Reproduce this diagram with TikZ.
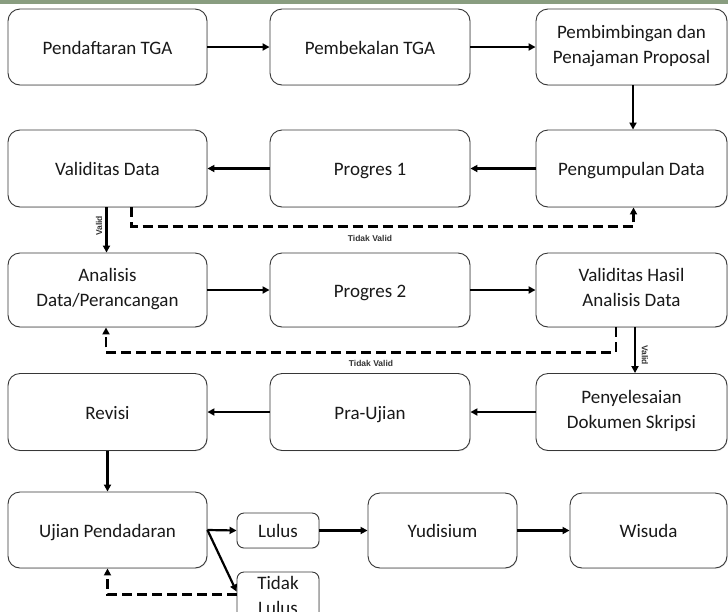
\documentclass[tikz,border=0pt]{standalone}
\usepackage{fontspec}
\setmainfont{Carlito}
\newfontfamily\tagfont{Liberation Sans}
\usetikzlibrary{arrows.meta,calc,shadows}
\definecolor{topbar}{RGB}{137,157,128}
\definecolor{boxline}{RGB}{55,55,55}
\definecolor{txt}{RGB}{25,25,25}
\newcommand\ms{\rule[-5pt]{0pt}{24.6pt}}
\tikzset{
  box/.style={draw=boxline, line width=0.9pt, rounded corners=12pt, fill=white,
    align=center, text=txt, font=\fontsize{19}{25}\selectfont, inner sep=0pt,
    execute at begin node=\ms,
    drop shadow={opacity=0.18, shadow xshift=0.8pt, shadow yshift=-0.8pt}},
  smallbox/.style={box, rounded corners=7pt},
  flow/.style={line width=2.2pt, -{Triangle[length=7pt,width=7pt]}},
  back/.style={line width=2.2pt, dash pattern=on 10pt off 5pt, -{Triangle[length=7pt,width=7pt]}},
  tag/.style={font=\tagfont\fontsize{8.5}{9}\selectfont\bfseries, text=black!80, inner sep=1pt},
}
\begin{document}
\begin{tikzpicture}[x=1pt,y=-1pt]
\useasboundingbox (0,0) rectangle (728,611);
\clip (0,0) rectangle (728,611);
\fill[white] (0,0) rectangle (728,611);
\fill[topbar] (0,0) rectangle (728,3.5);

% row 1
\node[box, minimum width=199pt, minimum height=76pt] (pend) at (107.5,47) {Pendaftaran TGA};
\node[box, minimum width=200pt, minimum height=76pt] (pemb) at (370,47) {Pembekalan TGA};
\node[box, minimum width=191pt, minimum height=76pt] (bimb) at (631.5,47) {Pembimbingan dan\\\ms Penajaman Proposal};
% row 2
\node[box, minimum width=199pt, minimum height=77pt] (valdata) at (107.5,168.5) {Validitas Data};
\node[box, minimum width=200pt, minimum height=77pt] (prog1) at (370,168.5) {Progres 1};
\node[box, minimum width=191pt, minimum height=77pt] (peng) at (631.5,168.5) {Pengumpulan Data};
% row 3
\node[box, minimum width=199pt, minimum height=74pt] (anal) at (107.5,290) {Analisis\\\ms Data/Perancangan};
\node[box, minimum width=200pt, minimum height=74pt] (prog2) at (370,290) {Progres 2};
\node[box, minimum width=191pt, minimum height=74pt] (valhasil) at (631.5,290) {Validitas Hasil\\\ms Analisis Data};
% row 4
\node[box, minimum width=199pt, minimum height=77pt] (revisi) at (107.5,412) {Revisi};
\node[box, minimum width=200pt, minimum height=77pt] (pra) at (370,412) {Pra-Ujian};
\node[box, minimum width=191pt, minimum height=77pt] (penyel) at (631.5,412) {Penyelesaian\\\ms Dokumen Skripsi};
% row 5
\node[box, minimum width=199pt, minimum height=76pt] (ujian) at (107.5,530) {Ujian Pendadaran};
\node[smallbox, minimum width=82pt, minimum height=35pt] (lulus) at (278,530.5) {Lulus};
\node[smallbox, minimum width=82pt, minimum height=52pt] (tlulus) at (278,598) {Tidak\\\ms Lulus};
\node[box, minimum width=149pt, minimum height=75pt] (yud) at (442.5,530.5) {Yudisium};
\node[box, minimum width=157pt, minimum height=75pt] (wis) at (648.5,530.5) {Wisuda};

% connectors row 1
\draw[flow] (pend) -- (pemb);
\draw[flow] (pemb) -- (bimb);
\draw[flow] ($(bimb.south)+(1.5,0)$) -- ($(peng.north)+(1.5,0)$);
% row 2
\draw[flow] (peng) -- (prog1);
\draw[flow] (prog1) -- (valdata);
\draw[flow] ($(valdata.south)+(-1,0)$) -- ($(anal.north)+(-1,0)$);
\node[tag, rotate=90] (v1) at (99,226) {Valid};
\draw[back] ($(valdata.south)+(24,0)$) -- ++(0,19) -| ($(peng.south)+(2,0)$);
\node[tag] (tv1) at (370,238.5) {Tidak Valid};
% row 3
\draw[flow] (anal) -- (prog2);
\draw[flow] (prog2) -- (valhasil);
\draw[flow] ($(valhasil.south)+(3.5,0)$) -- ($(penyel.north)+(3.5,0)$);
\node[tag, rotate=-90] (v2) at (645,355) {Valid};
\draw[back] ($(valhasil.south)+(-15.5,0)$) -- ++(0,25) -| ($(anal.south)+(-1.5,0)$);
\node[tag] (tv2) at (371,363) {Tidak Valid};
% row 4
\draw[flow] (penyel) -- (pra);
\draw[flow] (pra) -- (revisi);
\draw[flow] (revisi) -- (ujian);
% row 5
\coordinate (tlin) at ($(tlulus.north west)+(0,20)$);
\coordinate (tlout) at ($(tlulus.north west)+(0,23)$);
\draw[flow] (ujian.east) -- (lulus.west);
\draw[flow] (ujian.east) -- (tlin);
\draw[back] (tlout) -| (ujian.south);
\draw[flow] (lulus) -- (yud);
\draw[flow] (yud) -- (wis);
\end{tikzpicture}
\end{document}
